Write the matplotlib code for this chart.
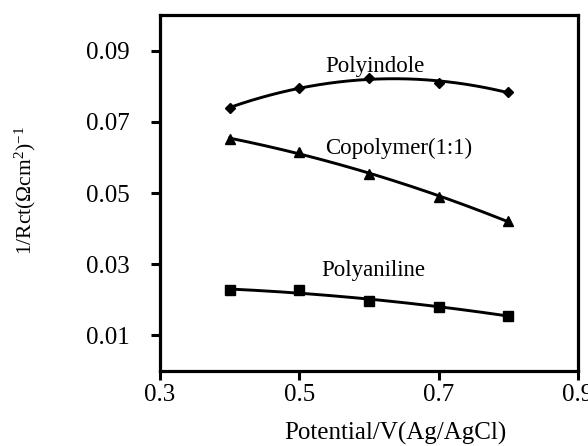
import numpy as np
import matplotlib
matplotlib.use("Agg")
import matplotlib.pyplot as plt

plt.rcParams['font.family'] = ['Liberation Serif', 'DejaVu Serif']
plt.rcParams['mathtext.fontset'] = 'custom'
plt.rcParams['mathtext.rm'] = 'Liberation Serif'
plt.rcParams['mathtext.it'] = 'Liberation Serif:italic'

potential = [0.4, 0.5, 0.6, 0.7, 0.8]
polyindole = [0.0739, 0.0796, 0.0824, 0.0808, 0.0785]
copolymer = [0.0652, 0.0616, 0.0554, 0.0490, 0.0421]
polyaniline = [0.0227, 0.0228, 0.0196, 0.0180, 0.0156]

series_names = ["Polyindole", "Copolymer(1:1)", "Polyaniline"]
x_ticks = [0.3, 0.5, 0.7, 0.9]
y_ticks = [0.01, 0.03, 0.05, 0.07, 0.09]

fig = plt.figure(figsize=(5.88, 4.46), dpi=100)
ax = fig.add_axes([0.272, 0.168, 0.711, 0.798])

markers = ['D', '^', 's']
msizes = [5, 7.5, 7]
xs = np.array(potential)
xfit = np.linspace(xs.min(), xs.max(), 200)
for ys, m, ms in zip([polyindole, copolymer, polyaniline], markers, msizes):
    # second-order trendline through each series
    coef = np.polyfit(xs, ys, 2)
    ax.plot(xfit, np.polyval(coef, xfit), color='black', lw=2.1)
    ax.plot(xs, ys, linestyle='none', marker=m, markersize=ms, color='black')

label_pos = [(0.609, 0.0855), (0.642, 0.0627), (0.606, 0.0283)]
for name, (lx, ly) in zip(series_names, label_pos):
    ax.text(lx, ly, name, ha='center', va='center', fontsize=16.5)

ax.set_xlim(0.3, 0.9)
ax.set_ylim(0.0, 0.1)
ax.set_xticks(x_ticks)
ax.set_yticks(y_ticks)
ax.set_xticklabels([f"{v:.1f}" for v in x_ticks])
ax.set_yticklabels([f"{v:.2f}" for v in y_ticks])
ax.tick_params(direction='out', length=6.5, width=2.2, labelsize=18)
ax.tick_params(axis='y', pad=15)
ax.tick_params(axis='x', pad=3)
for s in ax.spines.values():
    s.set_linewidth(2.3)

ax.set_xlabel("Potential/V(Ag/AgCl)", fontsize=18, va='top')
ax.xaxis.set_label_coords(0.562, -0.143)
ax.set_ylabel("1/Rct(\u03A9cm$^{2}$)$^{-1}$", fontsize=15.5)
ax.yaxis.set_label_coords(-0.292, 0.508)

fig.savefig("out.png", dpi=100)
